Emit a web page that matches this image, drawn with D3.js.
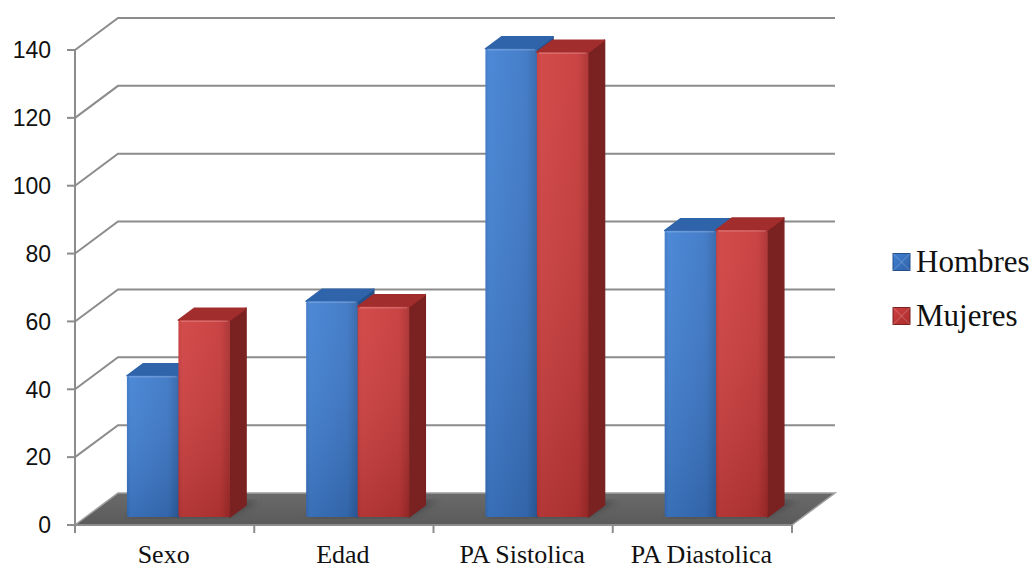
<!DOCTYPE html>
<html>
<head>
<meta charset="utf-8">
<script src="https://cdn.jsdelivr.net/npm/d3@7"></script>
<style>
  html, body { margin: 0; padding: 0; background: #ffffff; }
  svg { display: block; }
</style>
</head>
<body>
<svg id="chart" width="1035" height="569"></svg>
<script>
// Chart data
const categories = ["Sexo", "Edad", "PA Sistolica", "PA Diastolica"];
const seriesNames = ["Hombres", "Mujeres"];
const hombres = [41.6, 63.6, 138, 84.4];
const mujeres = [58, 62, 137, 84.6];
const yTicks = [0, 20, 40, 60, 80, 100, 120, 140];

const seriesValues = [hombres, mujeres];

const svg = d3.select("#chart");
const defs = svg.append("defs");

// Plot frame (front plane) and oblique depth vector
const plotLeft = 75, plotRight = 792, plotBottom = 525, plotTop = 50;
const depthX = 43, depthY = -32;
const proj = (x, y, z) => [x + z * depthX, y + z * depthY];

const y = d3.scaleLinear().domain([0, 140]).range([plotBottom, plotTop]);
const x0 = d3.scaleBand().domain(categories).range([plotLeft, plotRight]).padding(0);
const x1 = d3.scaleBand().domain(seriesNames).range([0, x0.bandwidth()])
  .paddingInner(0).paddingOuter(0.74).align(0.54);

// Bars occupy this slice of the depth
const zFront = 0.25, zBack = 0.625;

const palette = {
  Hombres: { front: ["#4181d4", "#3a75c4", "#2f62a8"], side: "#24508a", top: "#2f64aa" },
  Mujeres: { front: ["#d04040", "#c63838", "#a92c2c"], side: "#7a2222", top: "#a22d2d" }
};

// Gradients for bar fronts
seriesNames.forEach((s, i) => {
  const g = defs.append("linearGradient").attr("id", "front" + i)
    .attr("x1", 0).attr("y1", 0).attr("x2", 1).attr("y2", 0);
  g.append("stop").attr("offset", "0%").attr("stop-color", palette[s].front[1]);
  g.append("stop").attr("offset", "8%").attr("stop-color", palette[s].front[0]);
  g.append("stop").attr("offset", "80%").attr("stop-color", palette[s].front[1]);
  g.append("stop").attr("offset", "100%").attr("stop-color", palette[s].front[2]);
  const v = defs.append("linearGradient").attr("id", "shade" + i)
    .attr("x1", 0).attr("y1", 0).attr("x2", 0).attr("y2", 1);
  v.append("stop").attr("offset", "0%").attr("stop-color", "#ffffff").attr("stop-opacity", 0.06);
  v.append("stop").attr("offset", "100%").attr("stop-color", "#000000").attr("stop-opacity", 0.14);
});

const floorGrad = defs.append("linearGradient").attr("id", "floorGrad")
  .attr("x1", 0).attr("y1", 0).attr("x2", 0).attr("y2", 1);
floorGrad.append("stop").attr("offset", "0%").attr("stop-color", "#6a6a6a");
floorGrad.append("stop").attr("offset", "100%").attr("stop-color", "#5a5a5a");

defs.append("filter").attr("id", "soft").append("feGaussianBlur").attr("stdDeviation", 3);

const gridColor = "#8c8c8c";

// Back-wall gridlines with their slanted side-wall segments
const grid = svg.append("g");
yTicks.filter(v => v > 0).forEach(v => {
  const a = [plotLeft, y(v)];
  const b = proj(plotLeft, y(v), 1);
  const c = proj(plotRight, y(v), 1);
  grid.append("polyline")
    .attr("points", [a, b, c].map(p => p.join(",")).join(" "))
    .attr("fill", "none").attr("stroke", gridColor).attr("stroke-width", 2);
});

// Floor
const floorPts = [proj(plotLeft, plotBottom, 0), proj(plotRight, plotBottom, 0),
  proj(plotRight, plotBottom, 1), proj(plotLeft, plotBottom, 1)];
svg.append("polygon")
  .attr("points", floorPts.map(p => p.join(",")).join(" "))
  .attr("fill", "url(#floorGrad)").attr("stroke", "#a0a0a0").attr("stroke-width", 1.5);

// Soft shadows on the floor around each bar pair
const shadows = svg.append("g").attr("filter", "url(#soft)");
categories.forEach(c => {
  const xa = x0(c) + x1(seriesNames[0]);
  const xb = x0(c) + x1(seriesNames[1]) + x1.bandwidth();
  const pts = [proj(xa, plotBottom, zFront), proj(xb, plotBottom, zFront),
    proj(xb + 8, plotBottom, zBack + 0.12), proj(xa + 8, plotBottom, zBack + 0.12)];
  shadows.append("polygon").attr("points", pts.map(p => p.join(",")).join(" "))
    .attr("fill", "#3f3f3f").attr("opacity", 0.7);
});

// Bars: drawn left to right so each front face covers the previous side face
const bars = svg.append("g");
categories.forEach((c, ci) => {
  seriesNames.forEach((s, si) => {
    const v = seriesValues[si][ci];
    const xl = x0(c) + x1(s);
    const xr = xl + x1.bandwidth();
    const yt = y(v), yb = y(0);
    const f = (px, py, z) => proj(px, py, z).join(",");
    const g = bars.append("g");
    // side face
    g.append("polygon")
      .attr("points", [f(xr, yt, zFront), f(xr, yt, zBack), f(xr, yb, zBack), f(xr, yb, zFront)].join(" "))
      .attr("fill", palette[s].side).attr("stroke", palette[s].side).attr("stroke-width", 1.5)
      .attr("stroke-linejoin", "round");
    // top face
    g.append("polygon")
      .attr("points", [f(xl, yt, zFront), f(xr, yt, zFront), f(xr, yt, zBack), f(xl, yt, zBack)].join(" "))
      .attr("fill", palette[s].top).attr("stroke", palette[s].top).attr("stroke-width", 1.5)
      .attr("stroke-linejoin", "round");
    // front face
    const [fx, fy] = proj(xl, yt, zFront);
    const [, fb] = proj(xl, yb, zFront);
    g.append("rect")
      .attr("x", fx).attr("y", fy).attr("width", xr - xl).attr("height", fb - fy)
      .attr("rx", 2)
      .attr("fill", `url(#front${si})`);
    g.append("rect")
      .attr("x", fx).attr("y", fy).attr("width", xr - xl).attr("height", fb - fy)
      .attr("rx", 2)
      .attr("fill", `url(#shade${si})`);
    // bevel highlight along the top edge
    g.append("line")
      .attr("x1", fx + 2).attr("x2", fx + (xr - xl) - 2).attr("y1", fy + 1).attr("y2", fy + 1)
      .attr("stroke", "#ffffff").attr("stroke-opacity", 0.18).attr("stroke-width", 1.5);
  });
});

// Axes lines
const axes = svg.append("g").attr("stroke", gridColor).attr("stroke-width", 2);
axes.append("line").attr("x1", plotLeft).attr("x2", plotLeft).attr("y1", plotTop).attr("y2", plotBottom + 8);
axes.append("line").attr("x1", plotLeft - 8).attr("x2", plotRight).attr("y1", plotBottom).attr("y2", plotBottom);
yTicks.forEach(v => {
  axes.append("line").attr("x1", plotLeft - 8).attr("x2", plotLeft).attr("y1", y(v)).attr("y2", y(v));
});
d3.range(categories.length + 1).forEach(i => {
  const xx = plotLeft + i * x0.step();
  axes.append("line").attr("x1", xx).attr("x2", xx).attr("y1", plotBottom).attr("y2", plotBottom + 8);
});

// Y tick labels
svg.append("g").selectAll("text").data(yTicks).join("text")
  .attr("x", 51).attr("y", d => y(d)).attr("dy", "0.36em")
  .attr("text-anchor", "end")
  .attr("font-family", "Liberation Sans, Arial, sans-serif").attr("font-size", 23)
  .attr("fill", "#111").text(d => d);

// Category labels
svg.append("g").selectAll("text").data(categories).join("text")
  .attr("x", d => x0(d) + x0.bandwidth() / 2 - 1).attr("y", 563)
  .attr("text-anchor", "middle")
  .attr("font-family", "Liberation Serif, Times New Roman, serif").attr("font-size", 26)
  .attr("fill", "#111").text(d => d);

// Legend
const legend = svg.append("g");
seriesNames.forEach((s, i) => {
  const ly = 262 + i * 54;
  const gx = 893, sz = 17;
  const lg = defs.append("linearGradient").attr("id", "leg" + i)
    .attr("x1", 0).attr("y1", 0).attr("x2", 1).attr("y2", 1);
  lg.append("stop").attr("offset", "0%").attr("stop-color", palette[s].front[0]);
  lg.append("stop").attr("offset", "100%").attr("stop-color", palette[s].front[2]);
  legend.append("rect").attr("x", gx).attr("y", ly - sz / 2).attr("width", sz).attr("height", sz)
    .attr("fill", `url(#leg${i})`).attr("stroke", palette[s].side).attr("stroke-width", 1);
  // pyramid bevel diagonals
  legend.append("path")
    .attr("d", `M${gx},${ly - sz / 2}L${gx + sz},${ly + sz / 2}M${gx + sz},${ly - sz / 2}L${gx},${ly + sz / 2}`)
    .attr("stroke", "#ffffff").attr("stroke-opacity", 0.25).attr("stroke-width", 1);
  legend.append("text").attr("x", 916).attr("y", ly + 10)
    .attr("font-family", "Liberation Serif, Times New Roman, serif").attr("font-size", 31)
    .attr("fill", "#111").text(s);
});
</script>
</body>
</html>
